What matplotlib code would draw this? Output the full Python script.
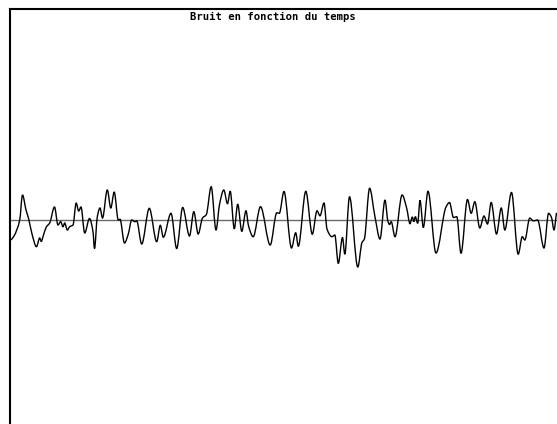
import matplotlib
matplotlib.use("Agg")
import matplotlib.pyplot as plt
from matplotlib.path import Path
from matplotlib.patches import PathPatch

title = "Bruit en fonction du temps"

# time (pixel-based units from the left axis) and noise amplitude
t = [1, 4, 9.7, 12.5, 16, 18.7, 22, 26.5, 29.7, 31.3, 33, 36.3, 39.7, 44.5, 48, 50.7, 53, 54.7,
     57.3, 59.7, 63, 66.2, 68.7, 71, 74.7, 79.5, 83, 84.5, 87.3, 90, 92.5, 97.3, 100.8, 104.2,
     108.3, 110, 114.5, 118.3, 121.7, 125, 126.7, 131.7, 139.3, 146.7, 150.3, 153.3, 161, 166.7,
     172.7, 179.5, 183.8, 188.2, 192.5, 196.3, 201.2, 206, 209.6, 213.8, 217.5, 220.2, 224.3,
     227.7, 231.8, 236, 238.5, 243.2, 250.5, 260.2, 266.8, 269.3, 274, 281.5, 285.7, 288.3,
     295.8, 302.3, 307, 310, 314, 317, 322, 324.8, 328.3, 332.5, 334.8, 339.5, 347.8, 352,
     354.3, 359.6, 365, 370, 375, 378, 379.5, 381.2, 385, 392.1, 396.7, 400, 402.3, 403.8,
     405.3, 407.7, 410, 413.3, 418, 426, 436, 439.5, 443.5, 446.8, 451, 457.5, 461.2, 464.8,
     469.8, 474, 477.5, 481.2, 486.5, 491.3, 494.8, 501.5, 508.2, 512.3, 514.8, 519.8, 523.2,
     525.6, 527.6, 534, 538.6, 541.5, 544, 546.5]
noise = [-20, -16, 0, 25, 10, 1, -14, -26.7, -18, -21.5, -16.7, -7, -3, 13, -5, -1.7, -6.7, -3,
         -10, -6.7, -5, 17, 9, 13, -13, 1.5, -11.7, -28.5, 3.3, 12, 2, 30, 12, 28,
         0, 0.7, -23, -14, 0, -1.7, -1, -24, 11.7, -21.7, -5.3, -17.2, 6.7, -28.5,
         12.5, -16, 8.3, -14, 2, 5.3, 33.3, -10, 16, 30, 16.3, 28.8, -8.8,
         15.8, -11.3, 9.2, -5.8, -16.7, 13.3, -25, 7.2, 6.7, 28.5, -28, -12.8, -26.2,
         28.7, -14.2, 9.2, 4.2, 17, -9, -16.7, -15, -43.3, -17.5, -34.2, 23.2, -47, -22.5,
         -19.2, 31.7, 3, -19, 20, -1.7, -4.5, -1.7, -16.7, 25, 11.7, -3.7, 3, -1.7,
         3.3, -3.3, 19.7, -7.5, 28.7, -33, 13, 17.5, 2.5, 3.3, -33.3, 20.5, 6.7, 18.3,
         -8, 4, -4, 17.5, -14, 12, -10, 27.5, -34.2, -16.7, -20, 2, -0.8,
         -0.5, 0, -28, 6.7, 2.5, -10, 7.2]


def smooth_path(xs, ys):
    """Monotone cubic (Fritsch-Carlson) drawn as Bezier segments through the data points."""
    n = len(xs)
    h = [xs[i + 1] - xs[i] for i in range(n - 1)]
    d = [(ys[i + 1] - ys[i]) / h[i] for i in range(n - 1)]
    m = [0.0] * n
    m[0], m[-1] = d[0], d[-1]
    for i in range(1, n - 1):
        if d[i - 1] * d[i] <= 0:
            m[i] = 0.0
        else:
            w1 = 2 * h[i] + h[i - 1]
            w2 = h[i] + 2 * h[i - 1]
            m[i] = (w1 + w2) / (w1 / d[i - 1] + w2 / d[i])
    verts = [(xs[0], ys[0])]
    codes = [Path.MOVETO]
    for i in range(n - 1):
        verts += [(xs[i] + h[i] / 3, ys[i] + m[i] * h[i] / 3),
                  (xs[i + 1] - h[i] / 3, ys[i + 1] - m[i + 1] * h[i] / 3),
                  (xs[i + 1], ys[i + 1])]
        codes += [Path.CURVE4] * 3
    return Path(verts, codes)


W, H = 557, 424
fig = plt.figure(figsize=(W / 100, H / 100), dpi=100)
fig.patch.set_facecolor("white")

left_px, top_px = 10, 9
ax = fig.add_axes([left_px / W, 0, 1 - left_px / W, 1 - top_px / H])
ax.set_xlim(0, W - left_px)
ax.set_ylim(220 - H, 220 - top_px)

ax.axhline(0, color="#6a6a6a", lw=1.0, zorder=1)
ax.add_patch(PathPatch(smooth_path(t, noise), fill=False, edgecolor="black", lw=1.0, zorder=2))

for s in ["right", "bottom"]:
    ax.spines[s].set_visible(False)
for s in ["left", "top"]:
    ax.spines[s].set_linewidth(1.5)
    ax.spines[s].set_color("black")
ax.set_xticks([])
ax.set_yticks([])

fig.text(272.5 / W, 1 - 17 / H, title, ha="center", va="center",
         family="DejaVu Sans Mono", fontsize=7.6, fontweight="bold")

fig.savefig("out.png", dpi=100, facecolor="white")
